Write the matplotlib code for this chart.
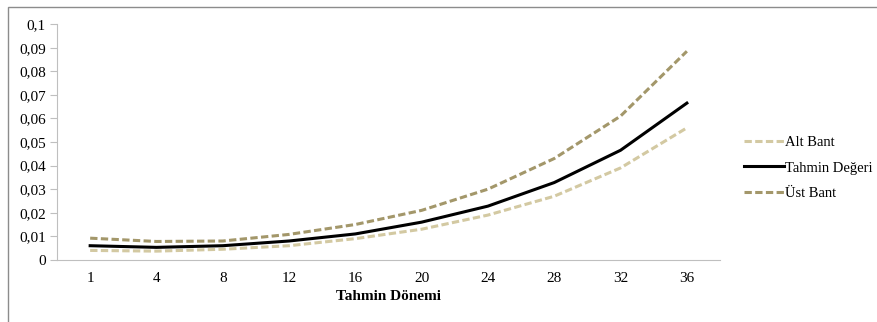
import matplotlib.pyplot as plt
from matplotlib.patches import Rectangle
import numpy as np

plt.rcParams['font.family'] = ['Liberation Serif', 'DejaVu Serif']

# data
donem = ['1', '4', '8', '12', '16', '20', '24', '28', '32', '36']
alt_bant = [0.0040, 0.0037, 0.0045, 0.0060, 0.0090, 0.0130, 0.0190, 0.0270, 0.0390, 0.0560]
tahmin = [0.0060, 0.0053, 0.0060, 0.0080, 0.0110, 0.0160, 0.0228, 0.0328, 0.0465, 0.0665]
ust_bant = [0.0092, 0.0078, 0.0080, 0.0108, 0.0150, 0.0210, 0.0300, 0.0430, 0.0610, 0.0885]
y_labels = ['0', '0,01', '0,02', '0,03', '0,04', '0,05', '0,06', '0,07', '0,08', '0,09', '0,1']

fig = plt.figure(figsize=(8.77, 3.22), dpi=100)
ax = fig.add_axes([0.065, 0.193, 0.756, 0.732])

# outer chart frame (cut off at right/bottom like the reference)
fig.patches.append(Rectangle((8/877, -0.2), 1.2, 1 - 7/322 + 0.2,
                             transform=fig.transFigure, fill=False,
                             edgecolor='#8c8c8c', lw=1.0))

x = np.arange(len(donem))
dash = (0, (2.4, 1.1))
ax.plot(x, alt_bant, color='#D3C9A2', lw=2.2, ls=dash, label='Alt Bant')
ax.plot(x, tahmin, color='black', lw=2.2, label='Tahmin Değeri')
ax.plot(x, ust_bant, color='#A3976A', lw=2.2, ls=dash, label='Üst Bant')

ax.set_xlim(-0.5, len(donem) - 0.5)
ax.set_ylim(0, 0.1)
ax.set_xticks(x)
ax.set_xticklabels(donem)
ax.set_yticks(np.linspace(0, 0.1, 11))
ax.set_yticklabels(y_labels)
ax.tick_params(axis='x', length=0, pad=9, labelsize=11)
ax.tick_params(axis='y', length=5, color='#bfbfbf', labelsize=11, pad=3)

for s in ['top', 'right']:
    ax.spines[s].set_visible(False)
ax.spines['left'].set_color('#bfbfbf')
ax.spines['bottom'].set_color('#bfbfbf')

ax.set_xlabel('Tahmin Dönemi', fontweight='bold', fontsize=11, labelpad=3)

ax.legend(loc='center left', bbox_to_anchor=(1.017, 0.39), frameon=False,
          fontsize=10.5, handlelength=2.7, handletextpad=0.1, labelspacing=0.85)

fig.savefig('out.png', dpi=100)
